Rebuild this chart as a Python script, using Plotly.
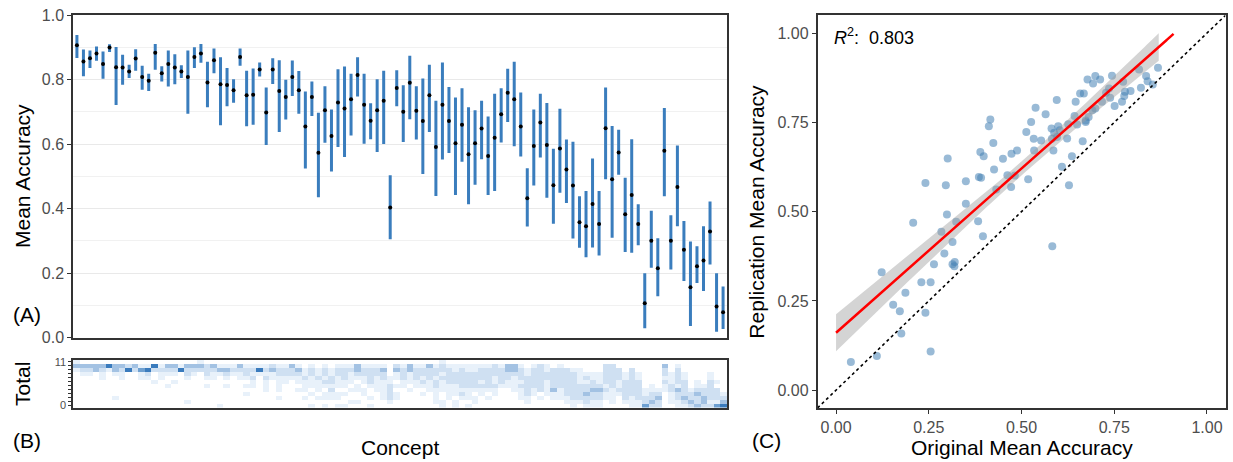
import numpy as np
import plotly.graph_objects as go

# ---------------- Panel A data (concepts ordered) ----------------
concept_mean = [.906,.856,.866,.881,.848,.899,.838,.837,.825,.865,
                .808,.796,.883,.819,.848,.837,.825,.808,.870,.881,
                .791,.860,.785,.783,.767,.870,.751,.753,.831,.698,
                .831,.764,.746,.808,.767,.654,.746,.573,.705,.625,
                .729,.710,.739,.814,.722,.672,.705,.734,.403,.774,
                .700,.790,.703,.671,.751,.591,.722,.671,.602,.660,
                .568,.602,.648,.563,.619,.692,.759,.739,.654,.432,
                .594,.667,.597,.472,.586,.521,.471,.357,.345,.414,
                .352,.649,.491,.574,.382,.442,.352,.106,.300,.215,
                .579,.300,.467,.272,.156,.221,.239,.329,.096,.078]
concept_upper = [.938,.893,.890,.902,.887,.909,.901,.877,.846,.894,
                 .843,.818,.910,.841,.890,.878,.844,.890,.900,.910,
                 .855,.896,.869,.836,.801,.896,.827,.834,.853,.775,
                 .866,.860,.799,.859,.826,.763,.794,.697,.779,.707,
                 .832,.840,.818,.869,.818,.726,.801,.827,.503,.829,
                 .782,.874,.779,.803,.846,.734,.853,.777,.744,.773,
                 .714,.705,.734,.685,.756,.773,.833,.855,.760,.525,
                 .707,.756,.727,.585,.709,.614,.607,.438,.454,.555,
                 .454,.775,.656,.644,.495,.615,.413,.199,.393,.308,
                 .712,.379,.595,.361,.298,.283,.345,.422,.199,.158]
concept_lower = [.867,.810,.836,.858,.802,.885,.721,.784,.805,.827,
                 .768,.764,.830,.794,.778,.785,.805,.694,.836,.852,
                 .714,.819,.658,.717,.728,.843,.655,.660,.809,.597,
                 .786,.637,.676,.749,.694,.524,.687,.435,.604,.515,
                 .591,.560,.626,.747,.601,.615,.575,.600,.305,.717,
                 .606,.677,.614,.507,.637,.439,.552,.572,.442,.545,
                 .413,.474,.553,.442,.454,.605,.668,.593,.561,.344,
                 .471,.558,.433,.353,.449,.417,.307,.278,.249,.279,
                 .254,.491,.309,.505,.265,.263,.286,.029,.216,.128,
                 .438,.211,.345,.175,.036,.169,.144,.226,.018,.026]
concepts = list(range(1, len(concept_mean) + 1))

# ---------------- Panel B data: intensity per total score (rows 11 .. 0) ----------------
total_rows_top_down = [
    "1000000000"+"0000000001"+"0000000000"+"0000000000"+"0000000000"+"0000001000"+"0000000000"+"0000000000"+"0000000000"+"0000000000",
    "3333353323"+"1151331333"+"2311131111"+"2113101010"+"1113111102"+"1311312111"+"1111213310"+"1210100000"+"0220000000"+"3010000000",
    "1223213252"+"4522225222"+"2233222252"+"3222312121"+"2223222303"+"2322222212"+"1122223321"+"2212221100"+"0222020000"+"2020000000",
    "0110101100"+"1201110210"+"2112112111"+"1222212121"+"2212222201"+"2122221222"+"2222222221"+"2222222111"+"1222121000"+"2121000100",
    "0000100100"+"1101000100"+"1101011202"+"1111121212"+"1211121211"+"2121212222"+"2222122122"+"2222222121"+"1222121000"+"1121000100",
    "0000000000"+"0010010000"+"0000000101"+"0110111122"+"1110121110"+"1112121222"+"2212121112"+"2212222112"+"1221222000"+"2122010210",
    "0000000000"+"0000100000"+"1001001101"+"0100011111"+"1101011121"+"1011121112"+"2222211122"+"2212222222"+"2121222010"+"1212011200",
    "0000000000"+"0000000000"+"0000000001"+"0100110102"+"0011101120"+"0100111111"+"1111100112"+"1213122223"+"3212222111"+"1232122220",
    "0000000000"+"0000000000"+"0000001000"+"0000001011"+"1100100121"+"0001010112"+"1010100012"+"1011122232"+"2111222122"+"0122232221",
    "0000001000"+"0000000000"+"0000000000"+"0100010111"+"1000010121"+"0000010101"+"1101000011"+"0101112222"+"2110212223"+"0123223222",
    "0000000000"+"0000000100"+"0000000000"+"0000000000"+"0011000010"+"0000011010"+"0100000001"+"0000011121"+"1010111232"+"0112323113",
    "0000000000"+"0000000000"+"0010000000"+"0000001010"+"1100010000"+"0000001010"+"1000000000"+"0000001011"+"1000011422"+"0011232245",
]
totals = list(range(0, 12))
total_z = [[int(c) for c in row] for row in reversed(total_rows_top_down)]

# ---------------- Panel C data ----------------
orig_acc = [0.040,0.110,0.123,0.154,0.172,0.176,0.187,0.208,0.230,0.241,0.241,0.255,0.255,0.264,0.284,
            0.292,0.296,0.299,0.301,0.314,0.314,0.320,0.319,0.324,0.350,0.350,0.383,0.385,0.389,0.391,
            0.396,0.398,0.412,0.416,0.424,0.426,0.432,0.450,0.462,0.473,0.472,0.482,0.488,
            0.513,0.526,0.538,0.565,0.533,0.553,0.534,0.518,0.595,0.581,0.599,0.588,0.603,0.582,0.596,
            0.623,0.586,0.609,0.636,0.628,0.583,0.626,0.643,0.646,0.650,0.658,0.668,0.665,0.673,0.673,
            0.678,0.693,0.699,0.712,0.691,0.699,0.717,0.681,0.736,0.739,0.728,0.751,0.744,0.771,0.774,
            0.777,0.779,0.794,0.817,0.822,0.836,0.840,0.854,0.868]
repl_acc = [0.079,0.096,0.330,0.239,0.221,0.159,0.273,0.469,0.302,0.580,0.217,0.302,0.108,0.353,0.444,
            0.383,0.574,0.492,0.649,0.415,0.353,0.359,0.347,0.472,0.585,0.522,0.473,0.597,0.667,0.595,
            0.431,0.655,0.739,0.758,0.692,0.618,0.562,0.648,0.602,0.662,0.569,0.601,0.671,
            0.723,0.751,0.791,0.773,0.704,0.699,0.671,0.591,0.813,0.733,0.739,0.721,0.728,0.704,0.709,
            0.705,0.671,0.626,0.655,0.574,0.403,0.745,0.768,0.808,0.744,0.831,0.831,0.697,0.755,0.751,
            0.870,0.859,0.880,0.870,0.784,0.789,0.808,0.765,0.845,0.819,0.833,0.796,0.881,0.808,0.864,
            0.824,0.836,0.838,0.898,0.847,0.880,0.865,0.856,0.903]
r2_text = "0.803"

# ---------------- Figure ----------------
W, H = 1233, 462
FONT = "Liberation Sans, Arial, Helvetica, sans-serif"
BAR = "#3a7dbd"
FRAME = "#333333"
TICK_GREY = "#4d4d4d"

def xd(a, b):
    return [a / W, b / W]

def yd(top, bottom):
    return [1 - bottom / H, 1 - top / H]

fig = go.Figure()

# Panel A
mean_arr = np.array(concept_mean)
fig.add_trace(go.Scatter(
    x=concepts, y=concept_mean, mode="markers",
    marker=dict(color="black", size=4),
    error_y=dict(type="data", symmetric=False,
                 array=(np.array(concept_upper) - mean_arr).tolist(),
                 arrayminus=(mean_arr - np.array(concept_lower)).tolist(),
                 color=BAR, thickness=3, width=0),
    xaxis="x", yaxis="y", showlegend=False, hoverinfo="skip"))

# Panel B
fig.add_trace(go.Heatmap(
    x=concepts, y=totals, z=total_z, zmin=0, zmax=5,
    colorscale=[[0, "#ffffff"], [0.2, "#e8f1fa"], [0.4, "#cfe0f2"],
                [0.6, "#a3c2e3"], [0.8, "#6ea0d1"], [1, "#3a7bbd"]],
    showscale=False, xaxis="x2", yaxis="y2", hoverinfo="skip"))

# Panel C
xs = np.array(orig_acc)
ys = np.array(repl_acc)
fig.add_trace(go.Scatter(
    x=orig_acc, y=repl_acc, mode="markers",
    marker=dict(color="rgba(70,130,180,0.55)", size=8, line=dict(width=0)),
    xaxis="x3", yaxis="y3", showlegend=False, hoverinfo="skip"))

n = len(xs)
slope, intercept = np.polyfit(xs, ys, 1)
resid = ys - (intercept + slope * xs)
s = np.sqrt(np.sum(resid ** 2) / (n - 2))
xbar = xs.mean()
sxx = np.sum((xs - xbar) ** 2)
grid = np.linspace(0, 1, 401)
fit = intercept + slope * grid
se = s * np.sqrt(1 / n + (grid - xbar) ** 2 / sxx)
tval = 1.985
lo = fit - tval * se
hi = fit + tval * se
band_ok = (hi <= 1) & (lo >= 0)
gx = grid[band_ok]
fig.add_trace(go.Scatter(
    x=np.concatenate([gx, gx[::-1]]).tolist(),
    y=np.concatenate([hi[band_ok], lo[band_ok][::-1]]).tolist(),
    fill="toself", fillcolor="rgba(160,160,160,0.45)", line=dict(width=0),
    mode="lines", xaxis="x3", yaxis="y3", showlegend=False, hoverinfo="skip"))
line_ok = (fit <= 1) & (fit >= 0)
fig.add_trace(go.Scatter(
    x=grid[line_ok].tolist(), y=fit[line_ok].tolist(), mode="lines",
    line=dict(color="#ff0000", width=2.5),
    xaxis="x3", yaxis="y3", showlegend=False, hoverinfo="skip"))
fig.add_trace(go.Scatter(
    x=[-0.05, 1.05], y=[-0.05, 1.05], mode="lines",
    line=dict(color="black", width=1.6, dash="dot"),
    xaxis="x3", yaxis="y3", showlegend=False, hoverinfo="skip"))

frame = dict(showline=True, mirror=True, linecolor=FRAME, linewidth=1.5,
             zeroline=False, automargin=False)
tickfont = dict(family=FONT, size=16, color=TICK_GREY)

fig.update_layout(
    width=W, height=H, autosize=False,
    margin=dict(l=0, r=0, t=0, b=0, pad=0),
    paper_bgcolor="white", plot_bgcolor="white",
    font=dict(family=FONT),
    xaxis=dict(domain=xd(73, 727), range=[0.4, 100.6], showticklabels=False, ticks="",
               showgrid=False, anchor="y", **frame),
    yaxis=dict(domain=yd(15, 337.5), range=[0, 1], anchor="x",
               tickvals=[0, 0.2, 0.4, 0.6, 0.8, 1.0],
               ticktext=["0.0", "0.2", "0.4", "0.6", "0.8", "1.0"],
               ticks="outside", ticklen=4, tickwidth=1.2, tickcolor=FRAME, tickfont=tickfont,
               showgrid=True, gridcolor="#e9e9e9", gridwidth=1.4,
               minor=dict(tickvals=[0.1, 0.3, 0.5, 0.7, 0.9], showgrid=True,
                          gridcolor="#f1f1f1", gridwidth=0.8, ticks=""),
               **frame),
    xaxis2=dict(domain=xd(73, 727), range=[0.5, 100.5], showticklabels=False, ticks="",
                showgrid=False, anchor="y2", **frame),
    yaxis2=dict(domain=yd(360, 407.5), range=[-0.5, 11.5], anchor="x2",
                tickvals=[0, 11], ticktext=["0", "11"],
                ticks="outside", ticklen=3, tickwidth=1, tickcolor=FRAME,
                tickfont=dict(family=FONT, size=11, color=TICK_GREY),
                minor=dict(tickvals=totals[1:-1], ticks="outside", ticklen=3,
                           tickwidth=1, tickcolor=FRAME, showgrid=False),
                showgrid=False, **frame),
    xaxis3=dict(domain=xd(817.5, 1225.5), range=[-0.05, 1.05], anchor="y3",
                tickvals=[0, 0.25, 0.5, 0.75, 1.0],
                ticktext=["0.00", "0.25", "0.50", "0.75", "1.00"],
                ticks="outside", ticklen=4, tickwidth=1.2, tickcolor=FRAME, tickfont=tickfont,
                showgrid=False, **frame),
    yaxis3=dict(domain=yd(15.3, 408), range=[-0.05, 1.05], anchor="x3",
                tickvals=[0, 0.25, 0.5, 0.75, 1.0],
                ticktext=["0.00", "0.25", "0.50", "0.75", "1.00"],
                ticks="outside", ticklen=4, tickwidth=1.2, tickcolor=FRAME, tickfont=tickfont,
                showgrid=False, **frame),
)

title_font = dict(family=FONT, size=21, color="black")
ann = [
    dict(text="Mean Accuracy", x=22 / W, y=1 - 176 / H, textangle=-90, font=title_font),
    dict(text="Total", x=22 / W, y=1 - 384 / H, textangle=-90, font=title_font),
    dict(text="Concept", x=400 / W, y=1 - 447 / H, font=title_font),
    dict(text="Replication Mean Accuracy", x=757 / W, y=1 - 211.7 / H, textangle=-90, font=title_font),
    dict(text="Original Mean Accuracy", x=1021.5 / W, y=1 - 447 / H, font=title_font),
    dict(text="(A)", x=27 / W, y=1 - 314 / H, font=dict(family=FONT, size=21, color="black")),
    dict(text="(B)", x=27 / W, y=1 - 440 / H, font=dict(family=FONT, size=21, color="black")),
    dict(text="(C)", x=766 / W, y=1 - 440 / H, font=dict(family=FONT, size=21, color="black")),
    dict(text="<i>R</i><sup>2</sup>:  " + r2_text, x=832 / W, y=1 - 36.5 / H, xanchor="left",
         font=dict(family=FONT, size=18, color="black")),
]
for a in ann:
    a.setdefault("xanchor", "center")
    a.update(xref="paper", yref="paper", yanchor="middle", showarrow=False)
fig.update_layout(annotations=ann)

fig.write_html("out.html")
